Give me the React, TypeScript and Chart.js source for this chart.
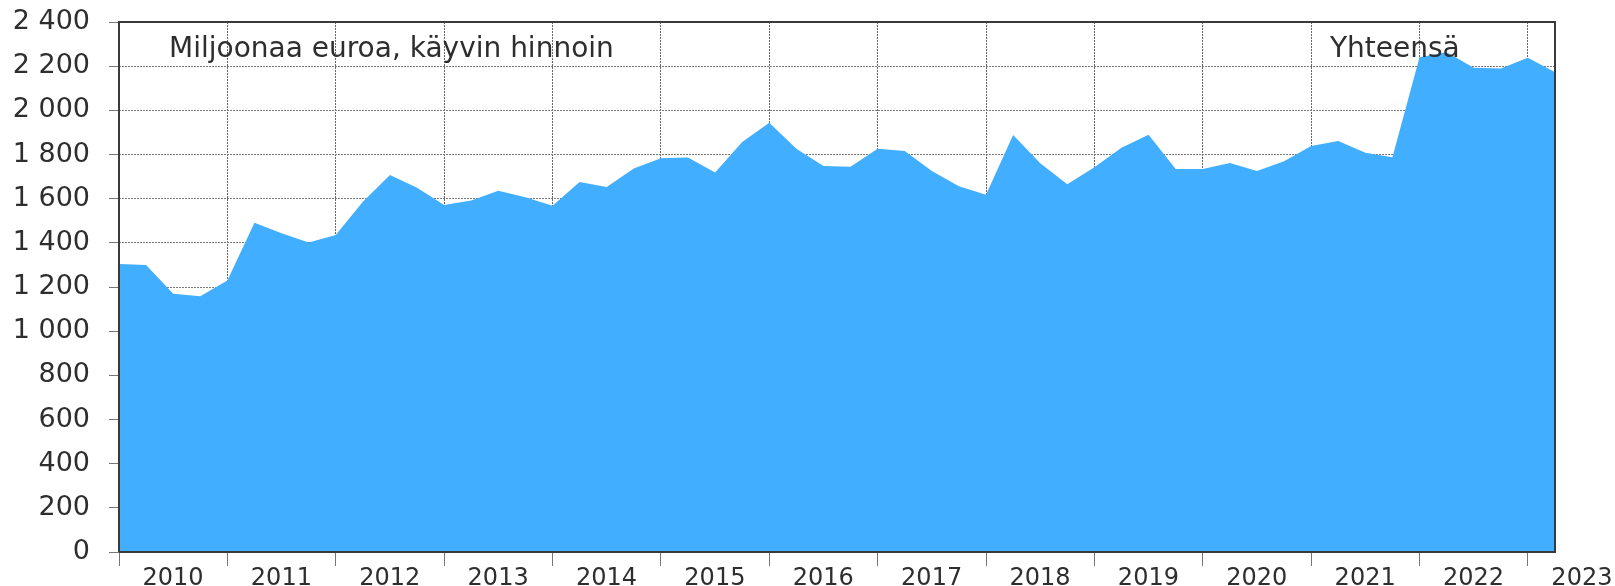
import React, { useEffect, useRef } from 'react';
import { Chart, registerables } from 'chart.js';

Chart.register(...registerables);

const years = ['2010', '2011', '2012', '2013', '2014', '2015', '2016', '2017', '2018', '2019', '2020', '2021', '2022', '2023'];

// Quarterly values, 2010 Q1 .. 2023 Q2 (million euros)
const values = [
  1304, 1300, 1170, 1158,
  1230, 1491, 1443, 1402,
  1435, 1586, 1707, 1650,
  1571, 1592, 1636, 1606,
  1568, 1675, 1653, 1737,
  1783, 1786, 1719, 1857,
  1944, 1826, 1748, 1745,
  1826, 1816, 1725, 1656,
  1618, 1888, 1760, 1665,
  1742, 1831, 1890, 1734,
  1734, 1762, 1725, 1769,
  1838, 1861, 1808, 1787,
  2240, 2263, 2193, 2189,
  2238, 2172,
];

const unitLabel = 'Miljoonaa euroa, käyvin hinnoin';
const seriesLabel = 'Yhteensä';

const FONT = "'DejaVu Sans', Verdana, sans-serif";
const TEXT = '#2e2e2e';

function fmt(v: number): string {
  if (v >= 1000) {
    const th = Math.floor(v / 1000);
    const rest = String(v % 1000).padStart(3, '0');
    return th + ' ' + rest;
  }
  return String(v);
}

export default function App() {
  const ref = useRef<HTMLCanvasElement>(null);

  useEffect(() => {
    if (!ref.current) return;
    const data = values.map((v, i) => ({ x: i, y: v }));

    const frame = {
      id: 'frame',
      afterDatasetsDraw(chart: any) {
        const { ctx, chartArea: a } = chart;
        ctx.save();
        ctx.strokeStyle = '#3a3a3a';
        ctx.lineWidth = 2;
        ctx.beginPath();
        ctx.moveTo(a.left, a.bottom);
        ctx.lineTo(a.left, a.top);
        ctx.lineTo(a.right, a.top);
        ctx.lineTo(a.right, a.bottom);
        ctx.lineTo(a.left, a.bottom);
        ctx.stroke();
        ctx.fillStyle = TEXT;
        ctx.font = '28px ' + FONT;
        ctx.textBaseline = 'alphabetic';
        ctx.textAlign = 'left';
        ctx.fillText(unitLabel, 169, 57);
        ctx.fillText(seriesLabel, 1330, 57);
        ctx.restore();
      },
    };

    const chart = new Chart(ref.current, {
      type: 'line',
      data: {
        datasets: [
          {
            label: seriesLabel,
            data,
            fill: 'origin',
            backgroundColor: '#41aeff',
            borderColor: 'rgba(0,0,0,0)',
            borderWidth: 1,
            pointRadius: 0,
            tension: 0,
          },
        ],
      },
      options: {
        animation: false,
        responsive: false,
        layout: { padding: { top: 22, right: 60, left: 0, bottom: 0 } },
        plugins: { legend: { display: false }, tooltip: { enabled: false } },
        scales: {
          x: {
            type: 'linear',
            min: 0,
            max: 53,
            ticks: {
              stepSize: 4,
              autoSkip: false,
              includeBounds: false,
              maxRotation: 0,
              labelOffset: 54,
              padding: -2,
              color: TEXT,
              font: { family: FONT, size: 24 },
              callback: (v: any) => {
                const n = Number(v);
                return Number.isInteger(n / 4) ? years[n / 4] ?? '' : '';
              },
            },
            grid: { color: '#666', lineWidth: 1, tickLength: 14, tickColor: '#777', tickBorderDash: [] },
            border: { display: false, dash: [2, 1] },
            afterFit: (s: any) => {
              s.height = 34;
              s.paddingLeft = 0;
              s.paddingRight = 0;
            },
          },
          y: {
            min: 0,
            max: 2400,
            ticks: {
              stepSize: 200,
              padding: 19,
              color: TEXT,
              font: { family: FONT, size: 27 },
              callback: (v: any) => fmt(Number(v)),
            },
            grid: { color: '#7a7a7a', lineWidth: 1, tickLength: 10, tickColor: '#777', tickBorderDash: [] },
            border: { display: false, dash: [2, 1] },
            afterFit: (s: any) => {
              s.width = 119;
              s.paddingTop = 0;
              s.paddingBottom = 0;
            },
          },
        },
      },
      plugins: [frame],
    });

    return () => chart.destroy();
  }, []);

  return (
    <div style={{ position: 'fixed', left: 0, top: 0, width: 1615, height: 586, background: '#fff' }}>
      <canvas ref={ref} width={1615} height={586} style={{ display: 'block' }} />
    </div>
  );
}
